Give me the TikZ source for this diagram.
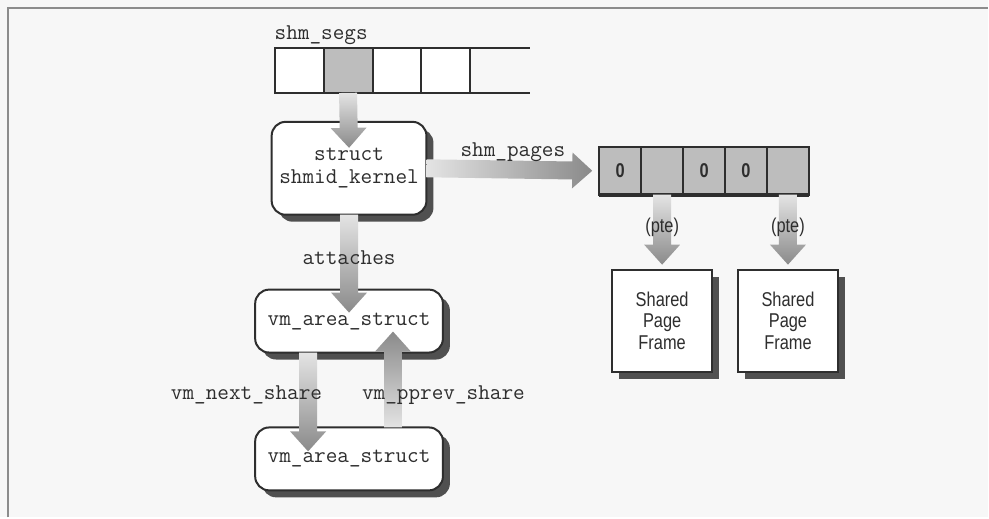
\documentclass[tikz,border=0pt]{standalone}
\usepackage{fontspec}
\newfontfamily\ShmSans[FakeStretch=0.82]{Liberation Sans}
\usetikzlibrary{calc,positioning,shadows}
\definecolor{shmPaper}{HTML}{F7F7F7}
\definecolor{shmRule}{HTML}{8C8C8C}
\definecolor{shmInk}{HTML}{2E2E2E}
\definecolor{shmCell}{HTML}{BDBDBD}
\definecolor{shmLight}{HTML}{E4E4E4}
\definecolor{shmDark}{HTML}{8A8A8A}
\definecolor{shmShadow}{HTML}{333333}
\tikzset{
  shm diagram/.style={
    x=0.5pt, y=-0.5pt, line width=1pt, color=shmInk,
    every node/.style={inner sep=0pt, outer sep=0pt}
  },
  shm code/.style={font=\fontsize{11.3}{11.5}\selectfont\ttfamily},
  shm label/.style={font=\ShmSans\fontsize{10}{10.8}\selectfont},
  shm shadow/.style={drop shadow={shadow xshift=3.5pt, shadow yshift=-3.5pt,
    fill=shmShadow, opacity=0.85}},
  seg cell/.style={draw, minimum width=24.5pt, minimum height=22.5pt},
  page cell/.style={draw, fill=shmCell, minimum width=21pt, minimum height=24pt,
    font=\ShmSans\bfseries\fontsize{10}{12}\selectfont},
  struct box/.style={shm code, shm shadow, draw, fill=white, rounded corners=7pt,
    align=center},
  frame box/.style={shm label, shm shadow, draw, fill=white, align=center,
    minimum width=50pt, minimum height=51pt},
  shm arrow/.style={top color=shmDark, bottom color=shmLight}
}
% wide shaded arrow from #2 to #3, light at the tail
\newcommand{\ShmArrow}[3][]{%
  \shade[shm arrow,#1] let \p1=(#2), \p2=(#3),
      \n1={atan2(\y2-\y1,\x2-\x1)} in
    ($(\p1)+({\n1+90}:4.5pt)$)
    -- ($(\p2)+({\n1+180}:10pt)+({\n1+90}:4.5pt)$)
    -- ($(\p2)+({\n1+180}:10pt)+({\n1+90}:9pt)$)
    -- (\p2)
    -- ($(\p2)+({\n1+180}:10pt)+({\n1-90}:9pt)$)
    -- ($(\p2)+({\n1+180}:10pt)+({\n1-90}:4.5pt)$)
    -- ($(\p1)+({\n1-90}:4.5pt)$) -- cycle;}

\begin{document}
\begin{tikzpicture}[shm diagram]
  \fill[shmPaper] (0,0) rectangle (989,518);
  \draw[shmRule, line width=1.3pt] (8,518) -- (8,8) -- (989,8);

  % shm_segs array
  \foreach \i/\c in {1/white,2/shmCell,3/white,4/white}
    \node[seg cell, fill=\c] (seg\i) at ({299.5+49*(\i-1)},70.5) {};
  \draw (seg4.north east) -- ++(60,0) (seg4.south east) -- ++(60,0);
  \node[shm code, anchor=south west, yshift=1.5pt] (segs) at (seg1.north west) {shm\_segs};

  \node[struct box, minimum width=77.5pt, minimum height=46.5pt] (kernel)
    at (349.5,168.5) {struct\\shmid\_kernel};
  \node[struct box, minimum width=94pt, minimum height=31.5pt,
    below=37.5pt of kernel] (vm1) {vm\_area\_struct};
  \node[struct box, minimum width=94pt, minimum height=31.5pt,
    below=37.5pt of vm1] (vm2) {vm\_area\_struct};

  % shm_pages array and the page frames
  \foreach \i/\v in {1/0,2/,3/0,4/0,5/}
    \node[page cell] (page\i) at ({621+42*(\i-1)},171) {\v};
  \draw[line width=2pt] (page1.south west) -- (page5.south east);
  \node[frame box, below=37.5pt of page2] (frame1) {Shared\\Page\\Frame};
  \node[frame box, below=37.5pt of page5] (frame2) {Shared\\Page\\Frame};

  \ShmArrow[shading angle=180]{seg2.south}{[yshift=-13pt]kernel.north}
  \ShmArrow[shading angle=-90]{kernel.east}{[xshift=-3.5pt]page1.west}
  \ShmArrow[shading angle=180]{kernel.south}{[yshift=-11.5pt]vm1.north}
  \ShmArrow[shading angle=180]{[xshift=-20.5pt]vm1.south}{[xshift=-20.5pt,yshift=-12pt]vm2.north}
  \ShmArrow{[xshift=22pt]vm2.north}{[xshift=22pt,yshift=10.5pt]vm1.south}
  \ShmArrow[shading angle=180]{page2.south}{[yshift=2.5pt]frame1.north}
  \ShmArrow[shading angle=180]{page5.south}{[yshift=2.5pt]frame2.north}

  \node[shm code, anchor=base] (pageslbl)
    at ($(kernel.east)!0.5!(page1.west)+(0,-13)$) {shm\_pages};
  \node[shm code] (attachlbl) at ($(kernel.south)!0.57!(vm1.north)$) {attaches};
  \coordinate (gap) at ($(vm1.south)!0.5!(vm2.north)$);
  \node[shm code, anchor=base east] (nextlbl)
    at ([xshift=-13.5pt,yshift=-4.75pt]gap) {vm\_next\_share};
  \node[shm code, anchor=base west] (prevlbl)
    at ([xshift=6.5pt,yshift=-4.75pt]gap) {vm\_pprev\_share};
  \node[shm label] (pte1) at ($(page2.south)!0.43!(frame1.north)$) {(pte)};
  \node[shm label] (pte2) at ($(page5.south)!0.43!(frame2.north)$) {(pte)};
\end{tikzpicture}
\end{document}
